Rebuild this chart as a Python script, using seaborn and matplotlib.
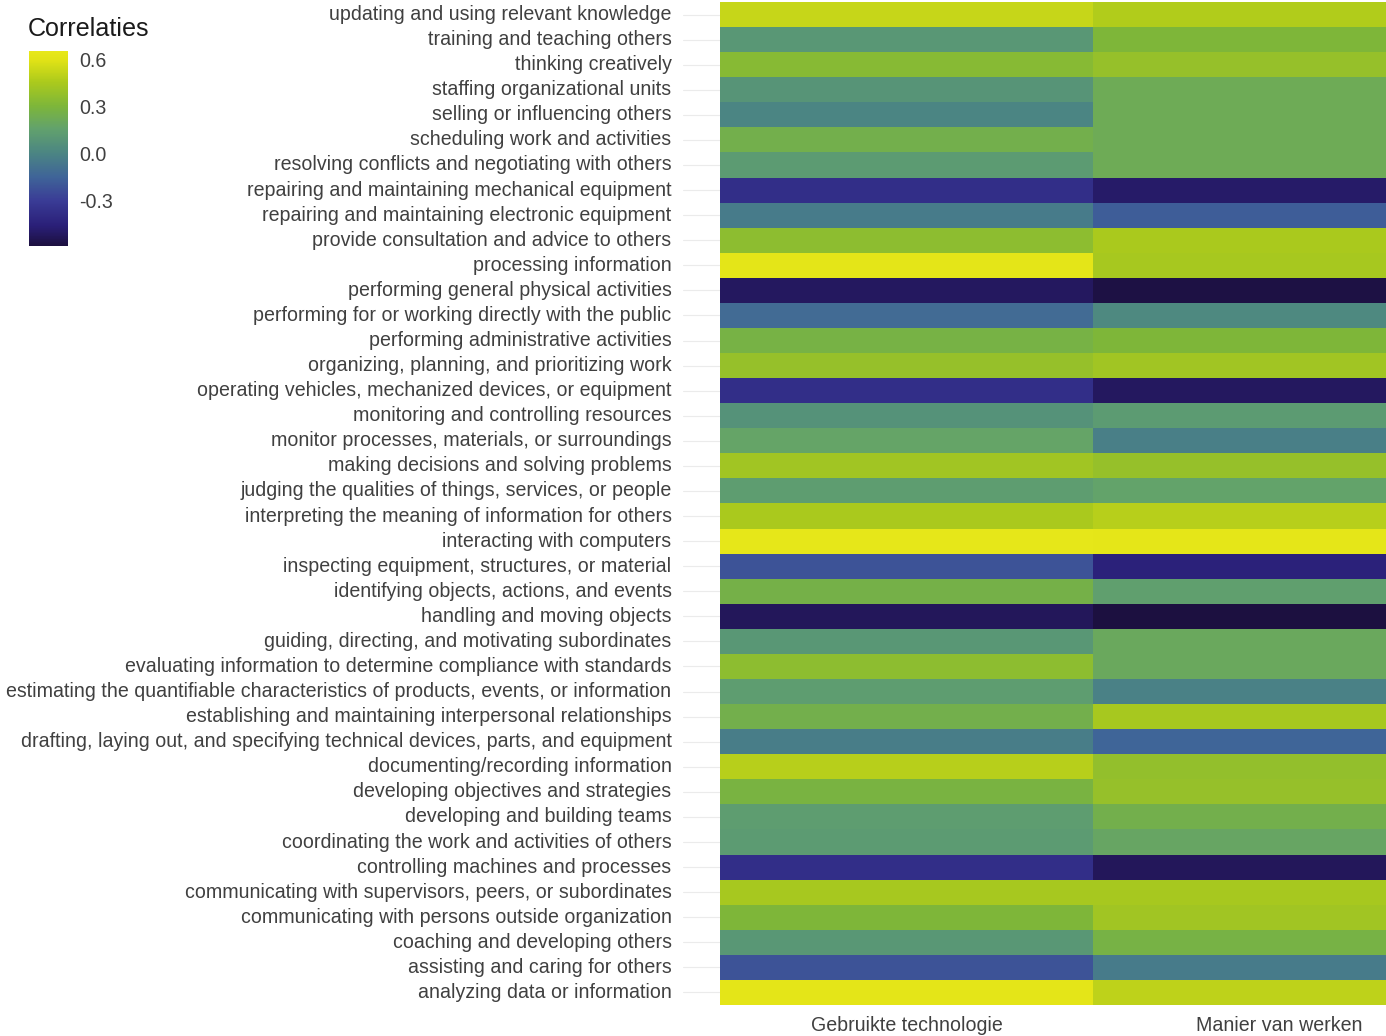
import numpy as np
import pandas as pd
import seaborn as sns
import matplotlib
matplotlib.use("Agg")
import matplotlib.pyplot as plt
from matplotlib.colors import LinearSegmentedColormap

activities = [
    "updating and using relevant knowledge",
    "training and teaching others",
    "thinking creatively",
    "staffing organizational units",
    "selling or influencing others",
    "scheduling work and activities",
    "resolving conflicts and negotiating with others",
    "repairing and maintaining mechanical equipment",
    "repairing and maintaining electronic equipment",
    "provide consultation and advice to others",
    "processing information",
    "performing general physical activities",
    "performing for or working directly with the public",
    "performing administrative activities",
    "organizing, planning, and prioritizing work",
    "operating vehicles, mechanized devices, or equipment",
    "monitoring and controlling resources",
    "monitor processes, materials, or surroundings",
    "making decisions and solving problems",
    "judging the qualities of things, services, or people",
    "interpreting the meaning of information for others",
    "interacting with computers",
    "inspecting equipment, structures, or material",
    "identifying objects, actions, and events",
    "handling and moving objects",
    "guiding, directing, and motivating subordinates",
    "evaluating information to determine compliance with standards",
    "estimating the quantifiable characteristics of products, events, or information",
    "establishing and maintaining interpersonal relationships",
    "drafting, laying out, and specifying technical devices, parts, and equipment",
    "documenting/recording information",
    "developing objectives and strategies",
    "developing and building teams",
    "coordinating the work and activities of others",
    "controlling machines and processes",
    "communicating with supervisors, peers, or subordinates",
    "communicating with persons outside organization",
    "coaching and developing others",
    "assisting and caring for others",
    "analyzing data or information",
]

columns = ["Gebruikte technologie", "Manier van werken"]

gebruikte_technologie = [
    0.52, 0.10, 0.33, 0.08, 0.00, 0.25, 0.12, -0.38, -0.05, 0.35,
    0.62, -0.52, -0.12, 0.27, 0.38, -0.38, 0.07, 0.17, 0.42, 0.13,
    0.45, 0.64, -0.22, 0.26, -0.53, 0.10, 0.35, 0.13, 0.25, -0.04,
    0.48, 0.28, 0.13, 0.12, -0.38, 0.44, 0.30, 0.10, -0.22, 0.62,
]

manier_van_werken = [
    0.47, 0.30, 0.38, 0.22, 0.22, 0.22, 0.22, -0.50, -0.18, 0.45,
    0.44, -0.58, 0.02, 0.30, 0.42, -0.52, 0.12, -0.03, 0.38, 0.16,
    0.48, 0.63, -0.45, 0.14, -0.59, 0.20, 0.20, -0.02, 0.44, -0.15,
    0.37, 0.38, 0.25, 0.18, -0.53, 0.44, 0.42, 0.27, -0.05, 0.50,
]

cbar_ticks = [0.6, 0.3, 0.0, -0.3]
cbar_ticklabels = ["0.6", "0.3", "0.0", "-0.3"]
vmin, vmax = -0.59, 0.655

df = pd.DataFrame({columns[0]: gebruikte_technologie,
                   columns[1]: manier_van_werken}, index=activities)

# colour scale approximating the printed viridis scale of the reference
cmap = LinearSegmentedColormap.from_list("printed_viridis", [
    (0.00, "#1c1040"),
    (0.10, "#2a1f78"),
    (0.23, "#3a3c96"),
    (0.35, "#3f6498"),
    (0.474, "#4b8583"),
    (0.60, "#62a26c"),
    (0.715, "#7db63a"),
    (0.84, "#acca1c"),
    (0.95, "#e0e216"),
    (1.00, "#e8e81a"),
])

sns.set_theme(style="white")
plt.rcParams["font.family"] = ["Liberation Sans", "DejaVu Sans"]

W, H = 1386, 1036
fig = plt.figure(figsize=(W / 100, H / 100), dpi=100)

# main panel: tiles 720..1466 px horizontally (cropped by the figure), 2..1005 px vertically
unit_x = 373.0
px_left = 720 - 0.1 * unit_x
px_right = 720 + 2.1 * unit_x
tile_top, tile_bot = 2.0, 1005.0
unit_y = (tile_bot - tile_top) / 40
py_top = tile_top - 0.1 * unit_y
py_bot = tile_bot + 0.1 * unit_y
ax = fig.add_axes([px_left / W, 1 - py_bot / H,
                   (px_right - px_left) / W, (py_bot - py_top) / H])

cax = fig.add_axes([28.5 / W, 1 - 245.5 / H, 39.5 / W, 195 / H])

sns.heatmap(df, ax=ax, cmap=cmap, vmin=vmin, vmax=vmax,
            cbar_ax=cax, cbar_kws={"ticks": cbar_ticks},
            linewidths=0)

ax.set_xlim(-0.1, 2.1)
ax.set_ylim(40.1, -0.1)
ax.set_axisbelow(True)
ax.yaxis.grid(True, color="#ebebeb", linewidth=0.8)
ax.xaxis.grid(False)
for s in ax.spines.values():
    s.set_visible(False)
ax.set_xlabel("")
ax.set_ylabel("")
ax.tick_params(axis="y", length=0, pad=8, labelsize=14.1, labelcolor="#404040")
ax.tick_params(axis="x", length=0, pad=6, labelsize=14.1, labelcolor="#404040")
plt.setp(ax.get_xticklabels(), rotation=0)
plt.setp(ax.get_yticklabels(), rotation=0)

# colourbar styling
cbar = ax.collections[0].colorbar
cbar.outline.set_visible(False)
cax.tick_params(axis="y", direction="in", length=6, width=1, color="white",
                left=True, right=True, labelleft=False, labelright=True,
                pad=8, labelsize=14.1, labelcolor="#404040")
cax.set_yticklabels(cbar_ticklabels)

fig.text(28 / W, 1 - 17 / H, "Correlaties", fontsize=18.1, color="#1a1a1a",
         ha="left", va="top")

fig.savefig("out.png", dpi=100)
